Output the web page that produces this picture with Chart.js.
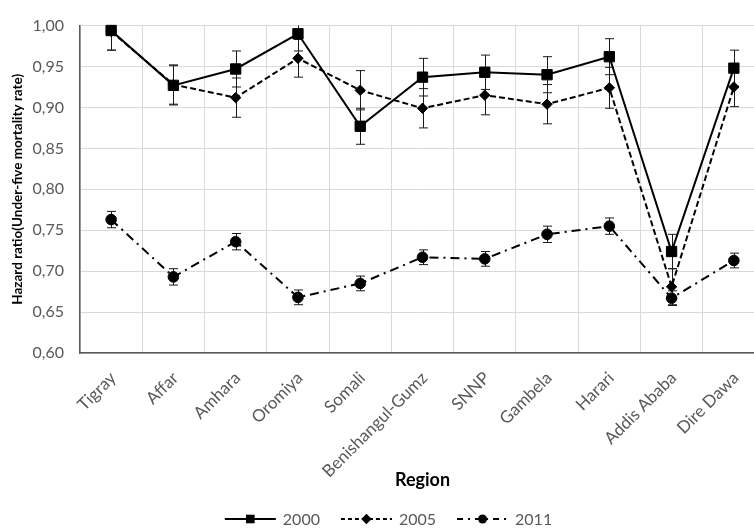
<!DOCTYPE html>
<html>
<head>
<meta charset="utf-8">
<script src="https://cdn.jsdelivr.net/npm/chart.js@4.4.1/dist/chart.umd.min.js"></script>
<style>
  html, body { margin: 0; padding: 0; background: #fff; overflow: hidden; }
  #wrap { position: relative; width: 780px; height: 528px; }
</style>
</head>
<body>
<div id="wrap"><canvas id="c"></canvas></div>
<script>
// Regions on the category axis
const regions = ['Tigray', 'Affar', 'Amhara', 'Oromiya', 'Somali', 'Benishangul-Gumz',
                 'SNNP', 'Gambela', 'Harari', 'Addis Ababa', 'Dire Dawa'];

// Hazard ratios per survey year, with the half-width of each error bar
const hr2000  = [0.994, 0.927, 0.947, 0.990, 0.877, 0.937, 0.943, 0.940, 0.962, 0.724, 0.948];
const err2000 = [0.024, 0.024, 0.022, 0.021, 0.022, 0.023, 0.021, 0.022, 0.022, 0.021, 0.022];

const hr2005  = [0.993, 0.928, 0.912, 0.960, 0.921, 0.899, 0.915, 0.904, 0.924, 0.681, 0.925];
const err2005 = [0.023, 0.024, 0.024, 0.023, 0.024, 0.024, 0.024, 0.024, 0.025, 0.022, 0.024];

const hr2011  = [0.763, 0.693, 0.736, 0.668, 0.685, 0.717, 0.715, 0.745, 0.755, 0.667, 0.713];
const err2011 = [0.010, 0.010, 0.010, 0.009, 0.009, 0.009, 0.009, 0.010, 0.010, 0.009, 0.009];

// Value axis range and step
const yMin = 0.60, yMax = 1.00, yStep = 0.05;

const FONT = 'Lato, "Open Sans", sans-serif';
const GREY = '#595959';

function drawMarker(ctx, style, x, y, r) {
  ctx.fillStyle = '#000';
  ctx.beginPath();
  if (style === 'rect') {
    ctx.rect(x - r, y - r, 2 * r, 2 * r);
  } else if (style === 'rectRot') {
    ctx.moveTo(x, y - r * 1.2); ctx.lineTo(x + r * 1.2, y);
    ctx.lineTo(x, y + r * 1.2); ctx.lineTo(x - r * 1.2, y);
    ctx.closePath();
  } else {
    ctx.arc(x, y, r * 1.05, 0, Math.PI * 2);
  }
  ctx.fill();
}

// Vertical error bars with caps, kept inside the plot area
const errorBars = {
  id: 'errorBars',
  beforeDatasetsDraw(chart) {
    const { ctx, chartArea: a, scales: { x, y } } = chart;
    ctx.save();
    ctx.beginPath();
    ctx.rect(a.left, a.top, a.right - a.left, a.bottom - a.top);
    ctx.clip();
    ctx.strokeStyle = '#1a1a1a';
    ctx.lineWidth = 1;
    chart.data.datasets.forEach(ds => {
      ds.data.forEach((v, j) => {
        const e = ds.errors[j];
        const px = Math.round(x.getPixelForValue(j)) + 0.5;
        const yt = y.getPixelForValue(v + e);
        const yb = y.getPixelForValue(v - e);
        ctx.beginPath();
        ctx.moveTo(px, yt); ctx.lineTo(px, yb);
        ctx.moveTo(px - 4.5, yt); ctx.lineTo(px + 4.5, yt);
        ctx.moveTo(px - 4.5, yb); ctx.lineTo(px + 4.5, yb);
        ctx.stroke();
      });
    });
    ctx.restore();
  }
};

// Series key below the axis title: line sample with marker, then label
const seriesKey = {
  id: 'seriesKey',
  afterDraw(chart) {
    const ctx = chart.ctx;
    ctx.save();
    ctx.font = '16px ' + FONT;
    const lineLen = 51, gapText = 7, gapItem = 21;
    const dss = chart.data.datasets;
    const widths = dss.map(ds => lineLen + gapText + ctx.measureText(ds.label).width);
    const total = widths.reduce((s, w) => s + w, 0) + gapItem * (dss.length - 1);
    let x0 = chart.chartArea.left + (chart.chartArea.right - chart.chartArea.left) / 2 - total / 2 - 34;
    const yc = 519;
    dss.forEach((ds, i) => {
      ctx.strokeStyle = '#000';
      ctx.lineWidth = 2;
      ctx.setLineDash(ds.keyDash);
      ctx.beginPath();
      ctx.moveTo(x0, yc); ctx.lineTo(x0 + lineLen, yc);
      ctx.stroke();
      ctx.setLineDash([]);
      drawMarker(ctx, ds.pointStyle, x0 + lineLen / 2, yc, 4.3);
      ctx.fillStyle = GREY;
      ctx.textAlign = 'left';
      ctx.textBaseline = 'middle';
      ctx.fillText(ds.label, x0 + lineLen + gapText, yc + 1);
      x0 += widths[i] + gapItem;
    });
    ctx.restore();
  }
};

const common = {
  borderColor: '#000',
  backgroundColor: '#000',
  pointBackgroundColor: '#000',
  pointBorderColor: '#000',
  pointBorderWidth: 1,
  borderWidth: 2,
  tension: 0,
  clip: 8
};

new Chart(document.getElementById('c'), {
  type: 'line',
  data: {
    labels: regions,
    datasets: [
      Object.assign({}, common, { label: '2000', data: hr2000, errors: err2000,
        pointStyle: 'rect', pointRadius: 7.3, borderDash: [], keyDash: [] }),
      Object.assign({}, common, { label: '2005', data: hr2005, errors: err2005,
        pointStyle: 'rectRot', pointRadius: 5.2, borderDash: [6, 3], keyDash: [4, 3] }),
      Object.assign({}, common, { label: '2011', data: hr2011, errors: err2011,
        pointStyle: 'circle', pointRadius: 5.3, borderDash: [9, 5, 2, 5], keyDash: [6, 5, 2, 5] })
    ]
  },
  options: {
    responsive: true,
    maintainAspectRatio: false,
    animation: false,
    events: [],
    layout: { padding: { top: 19, right: 15, bottom: 33, left: 0 } },
    plugins: {
      legend: { display: false },
      tooltip: { enabled: false }
    },
    scales: {
      x: {
        offset: true,
        grid: { offset: true, color: '#d9d9d9', lineWidth: 1, drawTicks: false },
        border: { color: GREY, width: 1.5 },
        ticks: {
          color: GREY, autoSkip: false, minRotation: 45, maxRotation: 45,
          padding: 15, labelOffset: 2,
          font: { family: FONT, size: 17 }
        },
        title: {
          display: true, text: 'Region', color: '#000',
          font: { family: FONT, size: 18, weight: 'bold' },
          padding: { top: 0, bottom: 4 }
        },
        afterFit(s) { s.height = 142; }
      },
      y: {
        min: yMin, max: yMax,
        grid: { color: '#d9d9d9', lineWidth: 1, drawTicks: false },
        border: { color: GREY, width: 1.5 },
        ticks: {
          stepSize: yStep, color: GREY, padding: 16,
          font: { family: FONT, size: 16 },
          callback: v => v.toFixed(2).replace('.', ',')
        },
        title: {
          display: true, text: 'Hazard ratio(Under-five mortality rate)', color: '#000',
          font: { family: FONT, size: 13.5, weight: 'bold' },
          padding: { top: 10, bottom: 0 }
        },
        afterFit(s) { s.width = 80; }
      }
    }
  },
  plugins: [errorBars, seriesKey]
});
</script>
</body>
</html>
